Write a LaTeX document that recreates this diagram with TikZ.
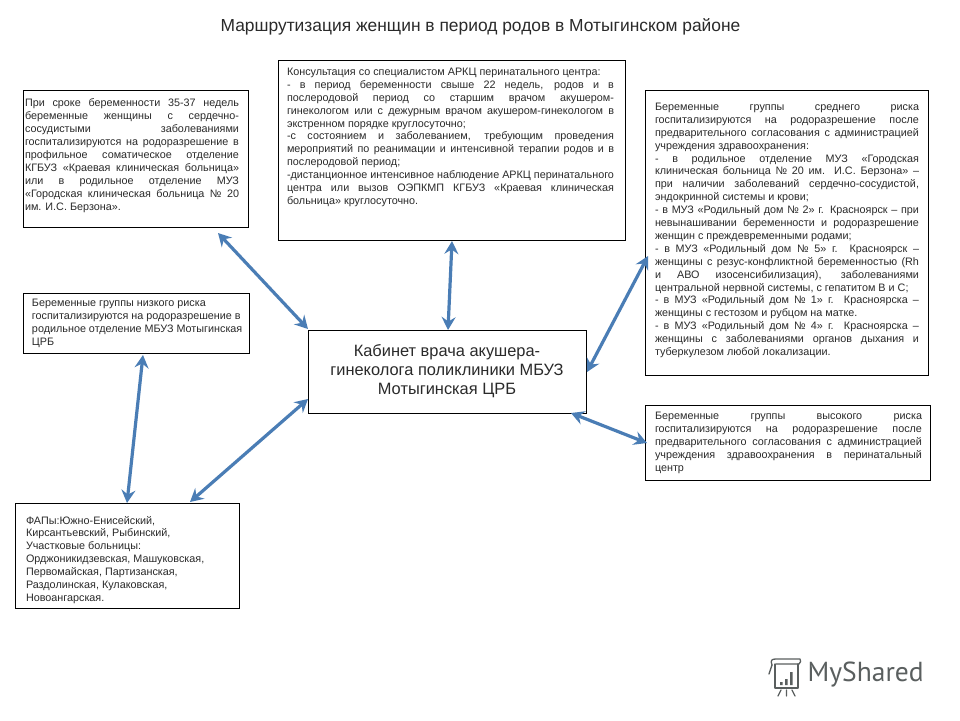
\documentclass[tikz,border=0pt]{standalone}
\usepackage{fontspec}
\setmainfont{Liberation Sans}
\newfontfamily\logofont{PT Sans}
\usetikzlibrary{arrows.meta,calc}
\definecolor{ink}{HTML}{2A2A2A}
\definecolor{arrowblue}{HTML}{4A7DB5}
\definecolor{logogray}{HTML}{5A5F5F}
\newlength{\lw}
\newcommand{\JL}[1]{\makebox[\lw][s]{#1}\par}
\newcommand{\FL}[1]{\mbox{#1}\par}
% #1 box width, #2 box height, #3 left pad, #4 top pad, #5 line width, #6 lines
\newcommand{\boxtext}[6]{\vbox to #2pt{\kern#4pt\hbox to #1pt{\kern#3pt\vtop{\hsize=#5pt\lw=#5pt\parindent=0pt\parskip=0pt\fontsize{10.8pt}{12.9pt}\selectfont\baselineskip=12.9pt\lineskip=0pt\color{ink}#6}\hss}\vfil}}
\tikzset{
  x=1pt,y=-1pt,
  infobox/.style={draw=black,line width=1pt,fill=white,inner sep=0pt,outer sep=0pt,anchor=north west},
  link/.style={draw=arrowblue,line width=3.2pt,{Stealth[length=13pt,width=14pt,inset=4.5pt]}-{Stealth[length=13pt,width=14pt,inset=4.5pt]}},
}
\begin{document}
\begin{tikzpicture}
\useasboundingbox (0,0) rectangle (960,720);
\fill[white] (0,0) rectangle (960,720);

\node (title) [anchor=center,text=ink,font=\fontsize{17.4pt}{20pt}\selectfont] at (480.5,27) {Маршрутизация женщин в период родов в Мотыгинском районе};

\node (a) [infobox] at (23,90) {\boxtext{225}{137}{2}{9}{214}{%
\JL{При сроке беременности 35-37 недель}
\JL{беременные женщины с сердечно-}
\JL{сосудистыми заболеваниями}
\JL{госпитализируются на родоразрешение в}
\JL{профильное соматическое отделение}
\JL{КГБУЗ «Краевая клиническая больница»}
\JL{или в родильное отделение МУЗ}
\JL{«Городская клиническая больница № 20}
\FL{им. И.С. Берзона».}}};

\node (b) [infobox] at (278,60) {\boxtext{347}{180}{9}{8}{327}{%
\FL{Консультация со специалистом АРКЦ перинатального центра:}
\JL{- в период беременности свыше 22 недель, родов и в}
\JL{послеродовой период со старшим врачом акушером-}
\JL{гинекологом или с дежурным врачом акушером-гинекологом в}
\FL{экстренном порядке круглосуточно;}
\JL{-с состоянием и заболеванием, требующим проведения}
\JL{мероприятий по реанимации и интенсивной терапии родов и в}
\FL{послеродовой период;}
\JL{-дистанционное интенсивное наблюдение АРКЦ перинатального}
\JL{центра или вызов ОЭПКМП КГБУЗ «Краевая клиническая}
\FL{больница» круглосуточно.}}};

\node (c) [infobox] at (645,90) {\boxtext{283}{285}{10}{13}{264}{%
\JL{Беременные группы среднего риска}
\JL{госпитализируются на родоразрешение после}
\JL{предварительного согласования с администрацией}
\FL{учреждения здравоохранения:}
\JL{- в родильное отделение МУЗ «Городская}
\JL{клиническая больница № 20 им. И.С. Берзона» –}
\JL{при наличии заболеваний сердечно-сосудистой,}
\FL{эндокринной системы и крови;}
\JL{- в МУЗ «Родильный дом № 2» г. Красноярск – при}
\JL{невынашивании беременности и родоразрешение}
\FL{женщин с преждевременными родами;}
\JL{- в МУЗ «Родильный дом № 5» г. Красноярск –}
\JL{женщины с резус-конфликтной беременностью (Rh}
\JL{и АВО изосенсибилизация), заболеваниями}
\FL{центральной нервной системы, с гепатитом В и С;}
\JL{- в МУЗ «Родильный дом № 1» г. Красноярска –}
\FL{женщины с гестозом и рубцом на матке.}
\JL{- в МУЗ «Родильный дом № 4» г. Красноярска –}
\JL{женщины с заболеваниями органов дыхания и}
\FL{туберкулезом любой локализации.}}};

\node (d) [infobox] at (645,405) {\boxtext{285}{75}{10}{7}{267}{%
\JL{Беременные группы высокого риска}
\JL{госпитализируются на родоразрешение после}
\JL{предварительного согласования с администрацией}
\JL{учреждения здравоохранения в перинатальный}
\FL{центр}}};

\node (e) [infobox] at (23,293) {\boxtext{226}{60}{9}{6}{212}{%
\FL{Беременные группы низкого риска}
\FL{госпитализируются на родоразрешение в}
\FL{родильное отделение МБУЗ Мотыгинская}
\FL{ЦРБ}}};

\node (f) [infobox] at (15,503) {\boxtext{224}{105}{11}{13}{205}{%
\FL{ФАПы:Южно-Енисейский,}
\FL{Кирсантьевский, Рыбинский,}
\FL{Участковые больницы:}
\FL{Орджоникидзевская, Машуковская,}
\FL{Первомайская, Партизанская,}
\FL{Раздолинская, Кулаковская,}
\FL{Новоангарская.}}};

\node (center) [infobox,text=ink,font=\fontsize{16.4pt}{19pt}\selectfont] at (308,330) {\parbox[c][83pt][t]{278pt}{\centering\vspace*{14pt}Кабинет врача акушера-\\гинеколога поликлиники МБУЗ\\Мотыгинская ЦРБ\par}};

\draw[link] ([xshift=-30pt,yshift=-6pt]a.south east) -- ([yshift=1pt]center.north west);
\draw[link] ([xshift=174pt,yshift=-1pt]b.south west) -- ([xshift=140pt]center.north west);
\draw[link] ([xshift=3pt,yshift=119pt]c.south west) -- ([xshift=1pt,yshift=41pt]center.south east);
\draw[link] ([xshift=-15pt]center.south east) -- ([xshift=2pt,yshift=37pt]d.south west);
\draw[link] ([xshift=120pt,yshift=-2pt]e.south west) -- ([xshift=112pt]f.north west);
\draw[link] ([xshift=175pt,yshift=1pt]f.north west) -- ([yshift=14pt]center.south west);

\begin{scope}[draw=logogray,line width=1.3pt,line cap=round,line join=round]
\node (logo) [anchor=west,text=logogray,inner sep=0pt,font=\logofont\fontsize{27.5pt}{29pt}\selectfont] at (807,675) {MyShared};
\draw (772,665) .. controls (770,660) and (772,659) .. (776,659) -- (800,659) .. controls (801,661) and (801,662) .. (799,664) -- (776,664);
\draw (772,665) -- (769,674);
\draw (775,664) -- (775,688) -- (798,688) -- (798,664);
\fill[logogray] (780,682) rectangle (782.5,685) (785,679) rectangle (787.5,685) (790,672) rectangle (792.5,685);
\draw (781,690) -- (778,696) (786.5,690) -- (786.5,696) (792,690) -- (795,696);
\end{scope}
\end{tikzpicture}
\end{document}
